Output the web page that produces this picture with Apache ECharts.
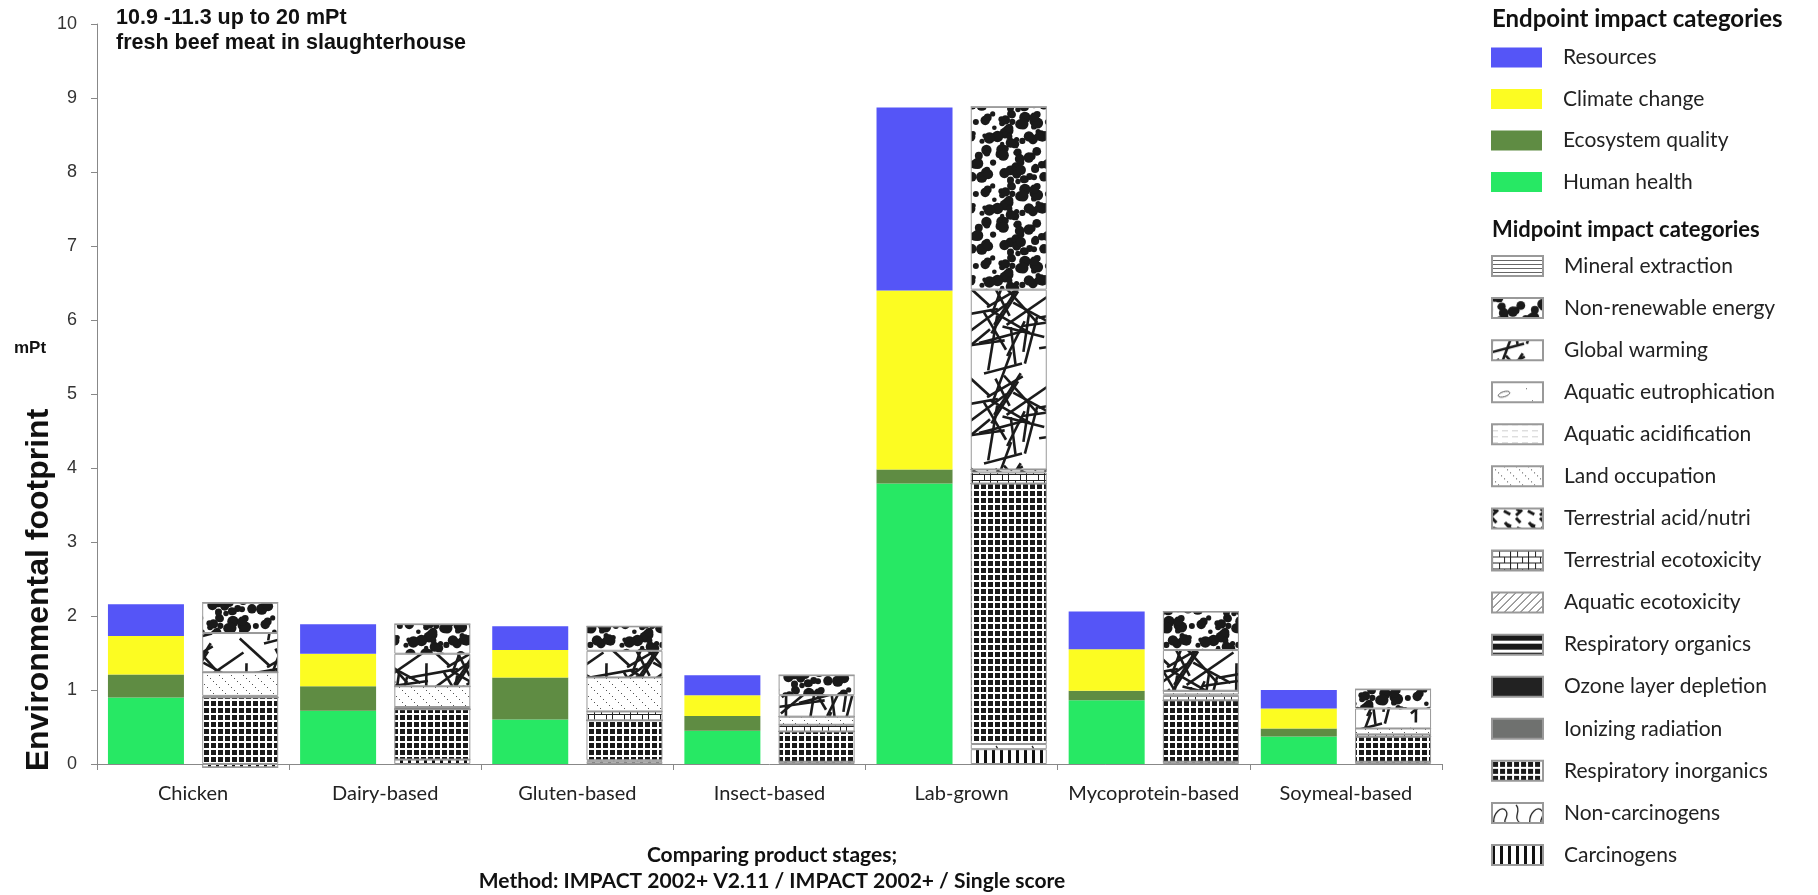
<!DOCTYPE html>
<html>
<head>
<meta charset="utf-8">
<script src="https://cdn.jsdelivr.net/npm/echarts@6/dist/echarts.min.js"></script>
<style>
  html, body { margin: 0; padding: 0; background: #fff; }
  #chart { width: 1818px; height: 895px; }
</style>
</head>
<body>
<div id="chart"></div>
<script>
// categories
const products = ["Chicken", "Dairy-based", "Gluten-based", "Insect-based", "Lab-grown", "Mycoprotein-based", "Soymeal-based"];
const yTicks = [0, 1, 2, 3, 4, 5, 6, 7, 8, 9, 10];

// endpoint (mPt), bottom -> top
const humanHealth      = [0.90, 0.72, 0.60, 0.45, 3.79, 0.86, 0.37];
const ecosystemQuality = [0.31, 0.33, 0.57, 0.20, 0.19, 0.13, 0.11];
const climateChange    = [0.52, 0.44, 0.37, 0.28, 2.42, 0.56, 0.27];
const resources        = [0.43, 0.40, 0.32, 0.27, 2.47, 0.51, 0.25];

// midpoint (mPt), bottom -> top
const carcinogens      = [-0.045, 0.06, 0.03, 0.03, 0.20, 0.03, 0.03];
const nonCarcinogens   = [0, 0, 0.02, 0, 0.07, 0, 0];
const respInorganics   = [0.90, 0.68, 0.54, 0.41, 3.52, 0.83, 0.34];
const ionizing         = [0, 0, 0, 0, 0, 0, 0];
const ozone            = [0, 0, 0, 0, 0, 0, 0];
const respOrganics     = [0, 0, 0, 0, 0, 0, 0];
const aquaticEcotox    = [0, 0, 0, 0, 0, 0, 0];
const terrEcotox       = [0, 0.03, 0.12, 0.09, 0.15, 0.06, 0.03];
const terrAcidNutri    = [0.02, 0, 0, 0, 0.04, 0.02, 0];
const landOccupation   = [0.32, 0.28, 0.46, 0.11, 0, 0.05, 0.08];
const aquaticAcid      = [0, 0, 0, 0, 0, 0, 0];
const aquaticEutro     = [0, 0, 0, 0, 0, 0, 0];
const globalWarming    = [0.53, 0.44, 0.36, 0.29, 2.43, 0.55, 0.27];
const nonRenewable     = [0.41, 0.40, 0.33, 0.27, 2.47, 0.52, 0.26];
const mineral          = [0, 0, 0, 0, 0, 0, 0];

// ---- hatch textures ----
function rng(seed) {
  let s = seed;
  return function () { s = (s * 16807) % 2147483647; return (s - 1) / 2147483646; };
}
function tile(w, h, draw) {
  const c = document.createElement("canvas");
  c.width = w; c.height = h;
  const g = c.getContext("2d");
  g.fillStyle = "#fff";
  g.fillRect(0, 0, w, h);
  draw(g, w, h);
  return { image: c, repeat: "repeat" };
}
function wrap(w, h, fn) {
  [-w, 0, w].forEach(dx => [-h, 0, h].forEach(dy => fn(dx, dy)));
}

const pat = {};
pat.mineral = tile(4, 4, g => { g.fillStyle = "#666"; g.fillRect(0, 0, 4, 1); });
pat.nre = tile(72, 72, (g, w, h) => {
  const r = rng(29);
  g.fillStyle = "#1a1a1a";
  for (let i = 0; i < 80; i++) {
    const x = r() * w, y = r() * h, rad = 2.2 + r() * 3.6;
    wrap(w, h, (dx, dy) => { g.beginPath(); g.arc(x + dx, y + dy, rad, 0, Math.PI * 2); g.fill(); });
  }
});
pat.gw = tile(90, 90, (g, w, h) => {
  const r = rng(5);
  g.strokeStyle = "#1b1b1b"; g.lineWidth = 2.6;
  for (let i = 0; i < 25; i++) {
    const x = r() * w, y = r() * h, a = r() * Math.PI, L = 28 + r() * 34;
    const ex = x + Math.cos(a) * L, ey = y + Math.sin(a) * L;
    wrap(w, h, (dx, dy) => { g.beginPath(); g.moveTo(x + dx, y + dy); g.lineTo(ex + dx, ey + dy); g.stroke(); });
  }
});
pat.eutro = tile(48, 24, g => {
  g.strokeStyle = "#555"; g.lineWidth = 1;
  g.beginPath(); g.ellipse(12, 12, 6, 2.5, -0.3, 0, Math.PI * 2); g.stroke();
  g.fillStyle = "#555";
  g.fillRect(34, 6, 1, 1); g.fillRect(40, 18, 1, 1); g.fillRect(26, 20, 1, 1);
});
pat.acid = tile(10, 6, g => { g.fillStyle = "#cfcfcf"; g.fillRect(0, 0, 6, 1); });
pat.land = tile(12, 12, g => {
  g.fillStyle = "#555";
  for (let i = 0; i < 4; i++) g.fillRect(i * 3, i * 3, 1, 1);
});
pat.terrAcid = tile(24, 24, (g, w, h) => {
  const r = rng(3);
  g.strokeStyle = "#1a1a1a"; g.lineWidth = 3;
  for (let i = 0; i < 7; i++) {
    const x = r() * w, y = r() * h, a = r() * Math.PI, L = 5 + r() * 4;
    const ex = x + Math.cos(a) * L, ey = y + Math.sin(a) * L;
    wrap(w, h, (dx, dy) => { g.beginPath(); g.moveTo(x + dx, y + dy); g.lineTo(ex + dx, ey + dy); g.stroke(); });
  }
});
pat.terrEco = tile(18, 12, g => {
  g.fillStyle = "#222";
  g.fillRect(0, 0, 18, 1); g.fillRect(0, 6, 18, 1);
  g.fillRect(0, 0, 1, 12); g.fillRect(7, 0, 1, 6); g.fillRect(12, 6, 1, 6);
});
pat.aqEco = tile(8, 8, (g, w, h) => {
  g.strokeStyle = "#444"; g.lineWidth = 1;
  wrap(w, h, (dx, dy) => { g.beginPath(); g.moveTo(dx, h + dy); g.lineTo(w + dx, dy); g.stroke(); });
});
pat.respOrg = tile(4, 9, g => { g.fillStyle = "#1a1a1a"; g.fillRect(0, 0, 4, 6); });
pat.respInorg = tile(7, 7, g => { g.fillStyle = "#1a1a1a"; g.fillRect(1, 1, 5, 5); });
pat.nonCarc = tile(36, 24, g => {
  g.strokeStyle = "#222"; g.lineWidth = 1.3;
  g.beginPath(); g.moveTo(2, 22); g.bezierCurveTo(0, 10, 10, 2, 14, 8); g.bezierCurveTo(18, 14, 8, 18, 16, 22); g.stroke();
  g.beginPath(); g.moveTo(24, 2); g.bezierCurveTo(30, 8, 20, 14, 28, 20); g.stroke();
});
pat.carc = tile(8, 8, g => {
  g.fillStyle = "#111"; g.fillRect(0, 0, 8, 8);
  g.fillStyle = "#fff"; g.fillRect(3, 0, 5, 8);
});

const endpoint = [
  { name: "Human health", data: humanHealth, color: "#27e864" },
  { name: "Ecosystem quality", data: ecosystemQuality, color: "#5f8c43" },
  { name: "Climate change", data: climateChange, color: "#fcfc22" },
  { name: "Resources", data: resources, color: "#5555f7" }
];
const midpoint = [
  { name: "Carcinogens", data: carcinogens, color: pat.carc },
  { name: "Non-carcinogens", data: nonCarcinogens, color: pat.nonCarc },
  { name: "Respiratory inorganics", data: respInorganics, color: pat.respInorg },
  { name: "Ionizing radiation", data: ionizing, color: "#6f716f" },
  { name: "Ozone layer depletion", data: ozone, color: "#222222" },
  { name: "Respiratory organics", data: respOrganics, color: pat.respOrg },
  { name: "Aquatic ecotoxicity", data: aquaticEcotox, color: pat.aqEco },
  { name: "Terrestrial ecotoxicity", data: terrEcotox, color: pat.terrEco },
  { name: "Terrestrial acid/nutri", data: terrAcidNutri, color: pat.terrAcid },
  { name: "Land occupation", data: landOccupation, color: pat.land },
  { name: "Aquatic acidification", data: aquaticAcid, color: pat.acid },
  { name: "Aquatic eutrophication", data: aquaticEutro, color: pat.eutro },
  { name: "Global warming", data: globalWarming, color: pat.gw },
  { name: "Non-renewable energy", data: nonRenewable, color: pat.nre },
  { name: "Mineral extraction", data: mineral, color: pat.mineral }
];

const series = [];
endpoint.forEach(s => {
  series.push({
    name: s.name, type: "bar", stack: "end", data: s.data,
    barWidth: 76, barGap: "24%",
    itemStyle: { color: s.color }
  });
});
midpoint.forEach(s => {
  series.push({
    name: s.name, type: "bar", stack: "mid", data: s.data,
    barWidth: 76, barGap: "24%", clip: false,
    itemStyle: { color: s.color, borderColor: "#999", borderWidth: 1 }
  });
});

const legendText = { fontFamily: "Lato", fontSize: 21, lineHeight: 20, color: "#222", padding: [0, 0, 0, 16] };

const myChart = echarts.init(document.getElementById("chart"));
const option = {
  animation: false,
  grid: { left: 97, right: 376, top: 24, bottom: 131 },
  legend: [
    {
      orient: "vertical", left: 1491, top: 47, padding: 0, height: 200,
      itemWidth: 51, itemHeight: 20, itemGap: 20.5,
      selectedMode: false, icon: "rect", textStyle: legendText,
      data: ["Resources", "Climate change", "Ecosystem quality", "Human health"]
    },
    {
      orient: "vertical", left: 1491, top: 255, padding: 0, height: 636,
      itemWidth: 51, itemHeight: 20, itemGap: 20.07,
      selectedMode: false, icon: "rect", textStyle: legendText,
      data: midpoint.map(s => s.name).reverse()
    }
  ],
  xAxis: {
    type: "category", data: products,
    axisLine: { lineStyle: { color: "#888" } },
    axisTick: { show: true, length: 6, lineStyle: { color: "#888" } },
    axisLabel: { interval: 0, fontFamily: "Lato", fontSize: 20, color: "#222", margin: 20 }
  },
  yAxis: {
    type: "value", min: yTicks[0], max: yTicks[yTicks.length - 1], interval: 1,
    splitLine: { show: false },
    axisLine: { show: true, lineStyle: { color: "#888" } },
    axisTick: { show: true, length: 6, lineStyle: { color: "#888" } },
    axisLabel: { fontFamily: "Liberation Sans", fontSize: 18, color: "#333", margin: 20 }
  },
  graphic: [
    { type: "text", left: 116, top: 7, style: { text: "10.9 -11.3 up to 20 mPt", font: "bold 21.5px 'Liberation Sans'", fill: "#111" } },
    { type: "text", left: 116, top: 32, style: { text: "fresh beef meat in slaughterhouse", font: "bold 21.5px 'Liberation Sans'", fill: "#111" } },
    { type: "text", left: 14, top: 340, style: { text: "mPt", font: "bold 17px 'Liberation Sans'", fill: "#111" } },
    { type: "text", x: 39, y: 590, rotation: Math.PI / 2,
      style: { text: "Environmental footprint", font: "bold 32px 'Liberation Sans'", fill: "#111", align: "center", verticalAlign: "middle" } },
    { type: "text", left: 1492, top: 7, style: { text: "Endpoint impact categories", font: "bold 24px Lato", fill: "#111" } },
    { type: "text", left: 1492, top: 219, style: { text: "Midpoint impact categories", font: "bold 22px Lato", fill: "#111" } },
    { type: "text", x: 772, y: 855, style: { text: "Comparing product stages;", font: "bold 21px Lato", fill: "#111", align: "center", verticalAlign: "middle" } },
    { type: "text", x: 772, y: 881, style: { text: "Method: IMPACT 2002+ V2.11 / IMPACT 2002+ / Single score", font: "bold 21px Lato", fill: "#111", align: "center", verticalAlign: "middle" } }
  ],
  series: series
};
option && myChart.setOption(option, true);
</script>
</body>
</html>
